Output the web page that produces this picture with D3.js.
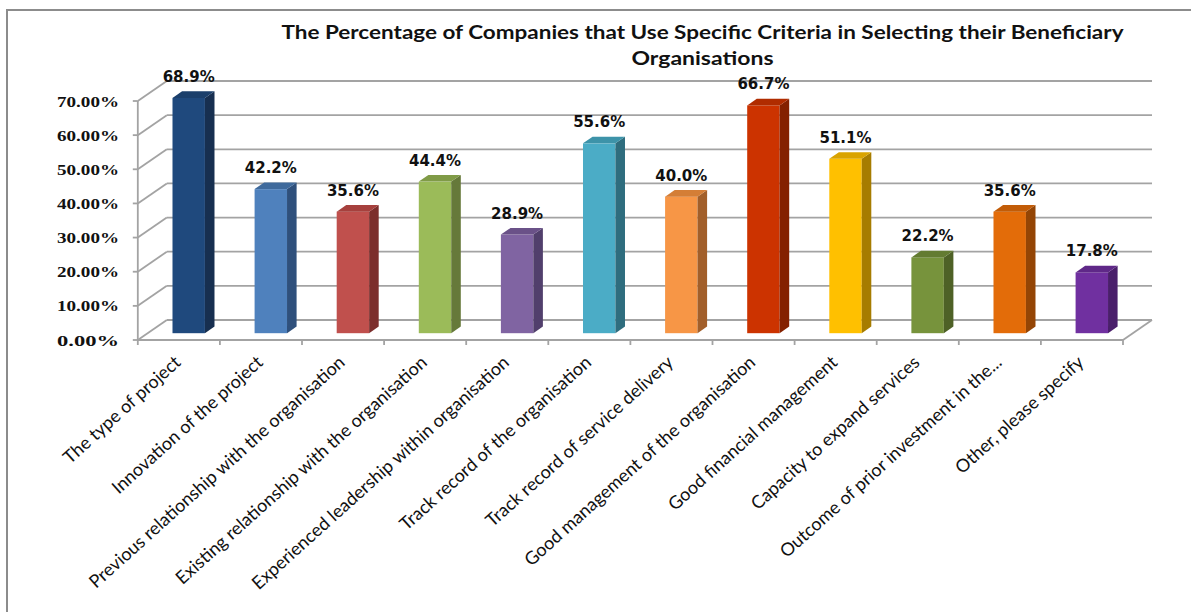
<!DOCTYPE html>
<html>
<head>
<meta charset="utf-8">
<script src="https://cdn.jsdelivr.net/npm/d3@7"></script>
<style>
  html, body { margin: 0; padding: 0; background: #ffffff; }
  svg { display: block; }
</style>
</head>
<body>
<svg id="chart" width="1191" height="612"></svg>
<script>
// ---------------- data ----------------
const titleLines = [
  "The Percentage of Companies that Use Specific Criteria in Selecting their Beneficiary",
  "Organisations"
];
const categories = [
  "The type of project",
  "Innovation of the project",
  "Previous relationship with the organisation",
  "Existing relationship with the organisation",
  "Experienced leadership within organisation",
  "Track record of the organisation",
  "Track record of service delivery",
  "Good management of the organisation",
  "Good financial management",
  "Capacity to expand services",
  "Outcome of prior investment in the...",
  "Other, please specify"
];
const values = [68.9, 42.2, 35.6, 44.4, 28.9, 55.6, 40.0, 66.7, 51.1, 22.2, 35.6, 17.8];
const valueLabels = ["68.9%", "42.2%", "35.6%", "44.4%", "28.9%", "55.6%", "40.0%", "66.7%", "51.1%", "22.2%", "35.6%", "17.8%"];
const yTicks = [0, 10, 20, 30, 40, 50, 60, 70];
const frontColors = ["#1f497d", "#4f81bd", "#c0504d", "#9bbb59", "#8064a2", "#4bacc6",
                     "#f79646", "#cc3300", "#ffc000", "#77933c", "#e36c09", "#7030a0"];
const sideColors  = ["#172f50", "#2f507c", "#7c2e2c", "#66793a", "#513f6c", "#2f6d7e",
                     "#a25f2a", "#842100", "#a67c00", "#4e6126", "#944505", "#4a1f6b"];
const topColors   = ["#1b3f6b", "#3f6a9c", "#a6403d", "#809b47", "#6a5188", "#3d93a9",
                     "#d47e36", "#b02c00", "#d9a300", "#637b31", "#c25c07", "#5f2888"];

// ---------------- layout ----------------
const svg = d3.select("#chart");
const L = { x0: 137.8, x1: 1123, floorY: 340, depthX: 29, depthY: -20, f0: 0.34, f1: 0.67, barFrac: 0.395 };
const gridColor = "#a3a3a3";

const x = d3.scaleBand().domain(categories).range([L.x0, L.x1]);
const h = d3.scaleLinear().domain([0, 70]).range([0, 239]);

// frame
svg.append("path")
  .attr("d", "M7,612 L7,10 L1191,10")
  .attr("fill", "none").attr("stroke", "#8c8c8c").attr("stroke-width", 2);

// title
const title = svg.append("g");
titleLines.forEach((t, i) => {
  title.append("text")
    .attr("x", 702.5).attr("y", 38.5 + i * 26.5)
    .attr("text-anchor", "middle")
    .attr("font-family", "Lato, 'Open Sans', sans-serif")
    .attr("font-weight", "bold")
    .attr("font-size", 19)
    .attr("fill", "#111")
    .attr("textLength", i === 0 ? 842 : 142)
    .attr("lengthAdjust", "spacingAndGlyphs")
    .text(t);
});

// back wall gridlines + side diagonals
const grid = svg.append("g").attr("stroke", gridColor).attr("stroke-width", 1.8).attr("fill", "none");
yTicks.forEach(v => {
  const yf = L.floorY - h(v);
  const yb = yf + L.depthY;
  grid.append("line").attr("x1", L.x0 + L.depthX).attr("x2", L.x1 + L.depthX).attr("y1", yb).attr("y2", yb);
  grid.append("line").attr("x1", L.x0).attr("y1", yf).attr("x2", L.x0 + L.depthX).attr("y2", yb);
  grid.append("line").attr("x1", L.x0 - 5).attr("x2", L.x0).attr("y1", yf).attr("y2", yf);
});
// front y axis
grid.append("line").attr("x1", L.x0).attr("x2", L.x0).attr("y1", L.floorY).attr("y2", L.floorY - h(70));
// floor front line and right diagonal
grid.append("line").attr("x1", L.x0).attr("x2", L.x1).attr("y1", L.floorY).attr("y2", L.floorY);
grid.append("line").attr("x1", L.x1).attr("y1", L.floorY).attr("x2", L.x1 + L.depthX).attr("y2", L.floorY + L.depthY);
// category ticks
d3.range(categories.length + 1).forEach(i => {
  const xx = L.x0 + i * x.step();
  grid.append("line").attr("x1", xx).attr("x2", xx).attr("y1", L.floorY).attr("y2", L.floorY + 5);
});

// y tick labels
svg.append("g").selectAll("text").data(yTicks).join("text")
  .attr("x", 119).attr("y", d => L.floorY - h(d) + 5.5)
  .attr("text-anchor", "end")
  .attr("font-family", "'Liberation Serif', serif")
  .attr("font-weight", "bold")
  .attr("font-size", 14.5)
  .attr("fill", "#111")
  .attr("textLength", 62)
  .attr("lengthAdjust", "spacingAndGlyphs")
  .text(d => d3.format(".2f")(d) + "%");

// bars
const barW = x.bandwidth() * L.barFrac;
const bars = svg.append("g");
const dx = L.depthX * (L.f1 - L.f0), dy = L.depthY * (L.f1 - L.f0);
categories.forEach((c, i) => {
  const left = x(c) + x.bandwidth() / 2 - barW / 2 + L.depthX * L.f0;
  const right = left + barW;
  const bottom = L.floorY + L.depthY * L.f0;
  const top = bottom - h(values[i]);
  const g = bars.append("g");
  g.append("rect").attr("x", left).attr("y", top).attr("width", barW).attr("height", bottom - top)
    .attr("fill", frontColors[i]);
  g.append("path").attr("d", `M${right},${top} L${right + dx},${top + dy} L${right + dx},${bottom + dy} L${right},${bottom} Z`)
    .attr("fill", sideColors[i]);
  g.append("path").attr("d", `M${left},${top} L${right},${top} L${right + dx},${top + dy} L${left + dx},${top + dy} Z`)
    .attr("fill", topColors[i]);
  // value label
  g.append("text")
    .attr("x", (left + right) / 2).attr("y", top - 16)
    .attr("text-anchor", "middle")
    .attr("font-family", "'DejaVu Sans', sans-serif")
    .attr("font-weight", "bold")
    .attr("font-size", 15)
    .attr("fill", "#111")
    .text(valueLabels[i]);
});

// category labels
svg.append("g").selectAll("text").data(categories).join("text")
  .attr("transform", d => `translate(${x(d) + x.bandwidth() / 2 + 3},${364}) rotate(-42)`)
  .attr("text-anchor", "end")
  .attr("font-family", "Lato, 'Open Sans', sans-serif")
  .attr("font-size", 18)
  .attr("fill", "#111")
  .text(d => d);
</script>
</body>
</html>
